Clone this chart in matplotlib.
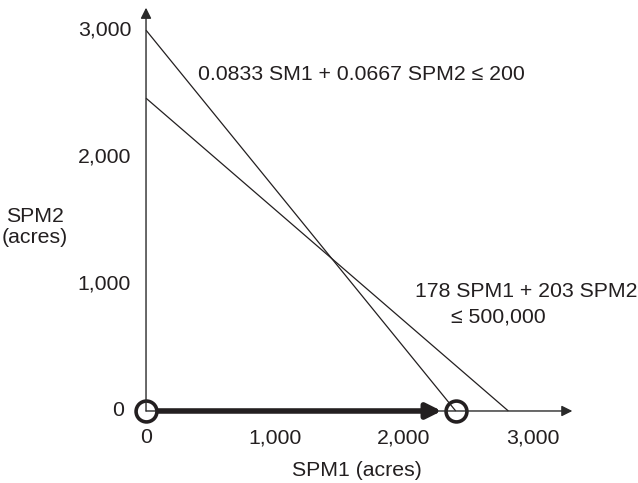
import matplotlib
matplotlib.use("Agg")
import matplotlib.pyplot as plt
import numpy as np

plt.rcParams['font.family'] = ['Liberation Sans', 'DejaVu Sans']

# Constraint coefficients: a*SPM1 + b*SPM2 <= rhs
labor = (0.0833, 0.0667, 200)
budget = (178, 203, 500000)
tick_values = [0, 1000, 2000, 3000]
tick_labels = ["0", "1,000", "2,000", "3,000"]
# Corner points examined along the SPM1 axis
corner_x = [0, 2400]
corner_y = [0, 0]

ink = "#231f20"
fs = 15.3
fig = plt.figure(figsize=(6.38, 4.83), dpi=100)
ax = fig.add_axes([0, 0, 1, 1])
ax.set_xlim(-1132, 3814)
ax.set_ylim(-567, 3236)
ax.axis("off")

# Axes with arrowheads
ax.annotate("", xy=(3305, 0), xytext=(0, 0),
            arrowprops=dict(arrowstyle="-|>", color="#2a2a2a", lw=1.0,
                            mutation_scale=16, shrinkA=0, shrinkB=0))
ax.annotate("", xy=(0, 3175), xytext=(0, 0),
            arrowprops=dict(arrowstyle="-|>", color="#2a2a2a", lw=1.0,
                            mutation_scale=16, shrinkA=0, shrinkB=0))

# Constraint lines
for a, b, rhs in (labor, budget):
    ax.plot([0, rhs / a], [rhs / b, 0], color=ink, lw=0.9, solid_capstyle="butt")

# Tick labels (the y zero label sits a little further left, clear of the marker)
for v, t in zip(tick_values, tick_labels):
    ax.text(v, -210, t, ha="center", va="center", fontsize=fs, color=ink)
    ax.text(-171 if v == 0 else -116, v, t, ha="right", va="center",
            fontsize=fs, color=ink)

# Movement along SPM1 axis between corner points
ax.annotate("", xy=(corner_x[1], corner_y[1]), xytext=(corner_x[0], corner_y[0]),
            arrowprops=dict(arrowstyle="-|>", color=ink, lw=4,
                            mutation_scale=22, shrinkA=9, shrinkB=10))
ax.plot(corner_x, corner_y, "o", ms=15, mfc="none", mec=ink, mew=2.6)

# Axis titles
ax.text(1636, -465, "SPM1 (acres)", ha="center", va="center", fontsize=fs, color=ink)
ax.text(-860, 1450, "SPM2\n(acres)", ha="center", va="center", fontsize=fs,
        color=ink, linespacing=1.15)

# Constraint annotations
ax.text(400, 2650, "0.0833 SM1 + 0.0667 SPM2 \u2264 200", ha="left", va="center",
        fontsize=fs, color=ink)
ax.text(2085, 937, "178 SPM1 + 203 SPM2", ha="left", va="center",
        fontsize=fs, color=ink)
ax.text(2364, 740, "\u2264 500,000", ha="left", va="center",
        fontsize=fs, color=ink)

fig.savefig("out.png", dpi=100)
